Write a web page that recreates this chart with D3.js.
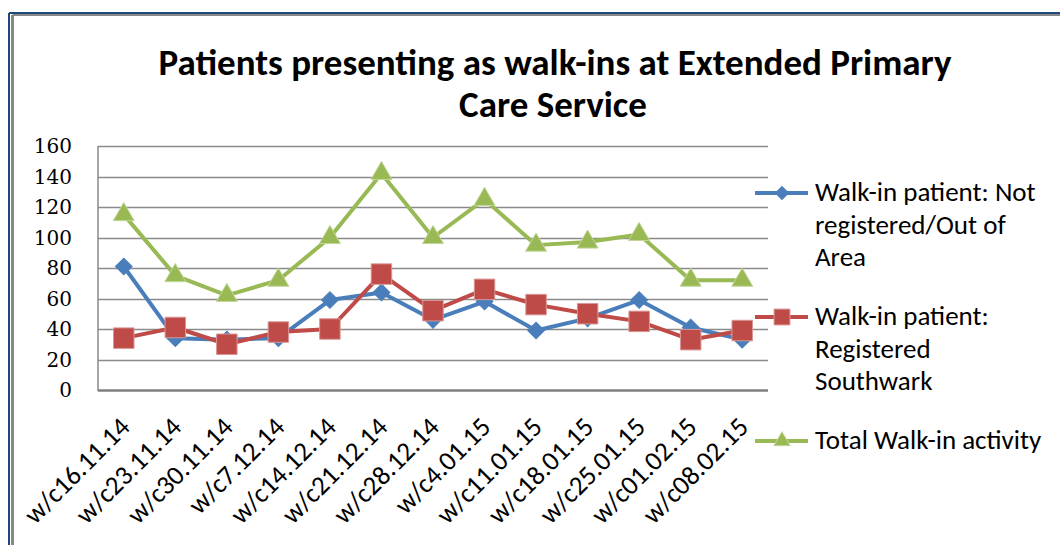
<!DOCTYPE html>
<html>
<head>
<meta charset="utf-8">
<script src="https://cdn.jsdelivr.net/npm/d3@7"></script>
<style>
  html, body { margin: 0; padding: 0; background: #fff; }
  svg { display: block; }
  .calibri { font-family: Carlito, Lato, "Liberation Sans", sans-serif; }
</style>
</head>
<body>
<div id="chart"></div>
<script>
// weeks commencing
const weeks = ["w/c16.11.14", "w/c23.11.14", "w/c30.11.14", "w/c7.12.14", "w/c14.12.14",
    "w/c21.12.14", "w/c28.12.14", "w/c4.01.15", "w/c11.01.15", "w/c18.01.15",
    "w/c25.01.15", "w/c01.02.15", "w/c08.02.15"];

const notRegistered = [81, 34, 33, 34, 59, 64, 46, 58, 39, 47, 59, 41, 33];
const registeredSouthwark = [34, 41, 30, 38, 40, 76, 52, 66, 56, 50, 45, 33, 39];
const totalWalkIn = [115, 75, 62, 72, 100, 142, 100, 125, 95, 97, 102, 72, 72];

const yTicks = [0, 20, 40, 60, 80, 100, 120, 140, 160];

const seriesNames = [
    ["Walk-in patient: Not", "registered/Out of", "Area"],
    ["Walk-in patient:", "Registered", "Southwark"],
    ["Total Walk-in activity"]
];

const W = 1060, H = 545;
const plot = { left: 98, right: 768, top: 146, bottom: 390 };

const svg = d3.select("#chart").append("svg")
    .attr("width", W).attr("height", H);

// outer chart border (blue + grey)
svg.append("line").attr("x1", 9).attr("y1", 13).attr("x2", W).attr("y2", 13)
    .attr("stroke", "#1f497d").attr("stroke-width", 2);
svg.append("line").attr("x1", 9).attr("y1", 13).attr("x2", 9).attr("y2", H)
    .attr("stroke", "#1f497d").attr("stroke-width", 2);
svg.append("line").attr("x1", 12.5).attr("y1", 15).attr("x2", W).attr("y2", 15)
    .attr("stroke", "#888").attr("stroke-width", 2);
svg.append("line").attr("x1", 12.5).attr("y1", 15).attr("x2", 12.5).attr("y2", H)
    .attr("stroke", "#888").attr("stroke-width", 3);

// title
const title = svg.append("text").attr("class", "calibri")
    .attr("text-anchor", "middle")
    .attr("font-size", 37).attr("font-weight", "bold").attr("fill", "#000");
title.append("tspan").attr("x", 555).attr("y", 75)
    .text("Patients presenting as walk-ins at Extended Primary");
title.append("tspan").attr("x", 553).attr("y", 117).text("Care Service");

const x = d3.scaleBand().domain(weeks).range([plot.left, plot.right]);
const cx = d => x(d) + x.bandwidth() / 2;
const y = d3.scaleLinear().domain([0, 160]).range([plot.bottom, plot.top]);

// gridlines
svg.append("g").selectAll("line")
    .data(yTicks.filter(t => t > 0)).join("line")
    .attr("x1", plot.left).attr("x2", plot.right)
    .attr("y1", d => Math.round(y(d)) + 0.5).attr("y2", d => Math.round(y(d)) + 0.5)
    .attr("stroke", "#8a8a8a").attr("stroke-width", 1.5);

// axis lines
svg.append("line").attr("x1", plot.left).attr("x2", plot.left)
    .attr("y1", plot.top).attr("y2", plot.bottom + 1)
    .attr("stroke", "#8a8a8a").attr("stroke-width", 1.5);
svg.append("line").attr("x1", plot.left).attr("x2", plot.right)
    .attr("y1", plot.bottom + 0.5).attr("y2", plot.bottom + 0.5)
    .attr("stroke", "#7f7f7f").attr("stroke-width", 2.5);

// y tick labels
svg.append("g").selectAll("text")
    .data(yTicks).join("text")
    .attr("x", 72).attr("y", d => y(d))
    .attr("dy", "0.36em")
    .attr("text-anchor", "end")
    .attr("font-family", "'DejaVu Serif', 'Liberation Serif', serif")
    .attr("font-size", 20).attr("fill", "#000")
    .text(d => d);

// x tick labels
svg.append("g").attr("class", "calibri").selectAll("text")
    .data(weeks).join("text")
    .attr("transform", d => `translate(${cx(d) + 1},${422}) rotate(-45)`)
    .attr("dy", "0.35em")
    .attr("text-anchor", "end")
    .attr("font-size", 27).attr("fill", "#000")
    .text(d => d);

const series = [
    { values: notRegistered, color: "#4a7ebb", stroke: "#4a7ebb", shape: d3.symbolSquare, size: 140, rot: 45 },
    { values: registeredSouthwark, color: "#be4b48", stroke: "#d99694", shape: d3.symbolSquare, size: 420, rot: 0 },
    { values: totalWalkIn, color: "#98b954", stroke: "#c3d69b", shape: d3.symbolTriangle, size: 190, rot: 0 }
];

const line = d3.line().x((d, i) => cx(weeks[i])).y(d => y(d));

series.forEach(s => {
    const g = svg.append("g");
    g.append("path").datum(s.values)
        .attr("d", line)
        .attr("fill", "none").attr("stroke", s.color)
        .attr("stroke-width", 4).attr("stroke-linejoin", "round");
    g.selectAll("path.m").data(s.values).join("path")
        .attr("class", "m")
        .attr("d", d3.symbol().type(s.shape).size(s.size))
        .attr("transform", (d, i) => `translate(${cx(weeks[i])},${y(d)}) rotate(${s.rot})`)
        .attr("fill", s.color)
        .attr("stroke", s.stroke).attr("stroke-width", 1);
});

// legend
const legendY = [193, 317, 441];
const legend = svg.append("g");
series.forEach((s, k) => {
    const ly = legendY[k];
    legend.append("line").attr("x1", 755).attr("x2", 808)
        .attr("y1", ly).attr("y2", ly)
        .attr("stroke", s.color).attr("stroke-width", 4);
    legend.append("path")
        .attr("d", d3.symbol().type(s.shape).size(s.size * 0.6))
        .attr("transform", `translate(782,${ly}) rotate(${s.rot})`)
        .attr("fill", s.color).attr("stroke", s.stroke).attr("stroke-width", 1);
    const t = legend.append("text").attr("class", "calibri")
        .attr("font-size", 27).attr("fill", "#000");
    seriesNames[k].forEach((ln, j) => {
        t.append("tspan").attr("x", 815).attr("y", ly + 8 + j * 32.5).text(ln);
    });
});
</script>
</body>
</html>
